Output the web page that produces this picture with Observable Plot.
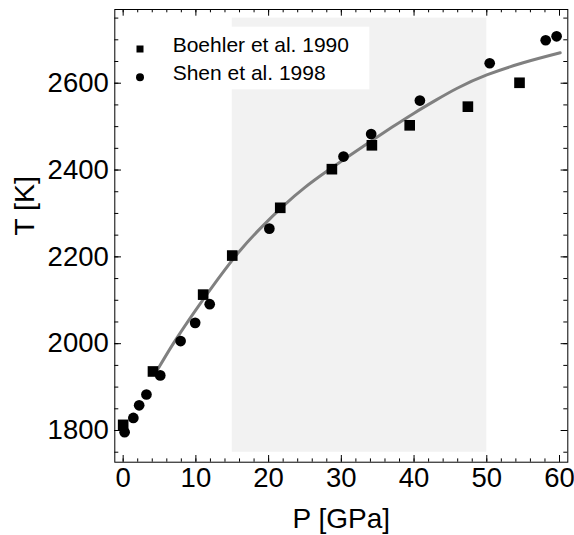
<!DOCTYPE html>
<html>
<head>
<meta charset="utf-8">
<script src="https://cdn.jsdelivr.net/npm/d3@7"></script>
<script src="https://cdn.jsdelivr.net/npm/@observablehq/plot@0.6"></script>
<style>
  html, body { margin: 0; padding: 0; background: #fff; }
  #chart svg { display: block; }
</style>
</head>
<body>
<div id="chart"></div>
<script>
// Melting temperature versus pressure: two experimental data sets and a fitted melting curve.
const boehlerP = [0, 4.1, 11.0, 15.0, 21.6, 28.7, 34.2, 39.4, 47.4, 54.5];
const boehlerT = [1813, 1936, 2113, 2203, 2313, 2402, 2457, 2503, 2546, 2601];

const shenP = [0.2, 1.4, 2.2, 3.2, 5.1, 7.9, 9.9, 11.9, 20.1, 30.3, 34.1, 40.8, 50.4, 58.1, 59.6];
const shenT = [1796, 1829, 1858, 1883, 1927, 2006, 2048, 2091, 2265, 2431, 2483, 2560, 2646, 2699, 2708];

// Fitted melting curve, sampled along its length
const fitP = [4.8, 7, 10, 13, 16, 19, 22, 25, 28, 31, 34, 37, 40, 43, 46, 50, 55, 60.1];
const fitT = [1942, 2003, 2078, 2148, 2213, 2268, 2317, 2360, 2397, 2432, 2466, 2499, 2531, 2561, 2589, 2619, 2647, 2670];

// Shaded pressure window
const bandP = [15, 50];
const bandT = [1750, 2750];

const seriesNames = ["Boehler et al. 1990", "Shen et al. 1998"];

const xMajorTicks = [0, 10, 20, 30, 40, 50, 60];
const xMinorTicks = d3.range(0, 61, 2);
const yMajorTicks = [1800, 2000, 2200, 2400, 2600];
const yMinorTicks = d3.range(1750, 2751, 50);

const xLabel = "P [GPa]";
const yLabel = "T [K]";

const boehler = boehlerP.map((p, i) => ({p, t: boehlerT[i]}));
const shen = shenP.map((p, i) => ({p, t: shenT[i]}));
const fit = fitP.map((p, i) => ({p, t: fitT[i]}));
const band = [{p1: bandP[0], p2: bandP[1], t1: bandT[0], t2: bandT[1]}];

const FONT = "'Liberation Sans', Arial, Helvetica, sans-serif";

// Frame geometry
const W = 574, H = 535;
const M = {left: 114.3, right: 6.7, top: 9, bottom: 73.3};
const frameW = W - M.left - M.right;
const frameH = H - M.top - M.bottom;

// Legend box in the upper-left corner of the frame
function legend(index, scales, values, dims) {
  const g = d3.create("svg:g");
  const x0 = dims.marginLeft, y0 = dims.marginTop;
  g.append("rect")
    .attr("x", x0 + 1).attr("y", y0 + 17.7)
    .attr("width", 254).attr("height", 62.6)
    .attr("fill", "white");
  g.append("rect")
    .attr("x", x0 + 25.7 - 3.5).attr("y", y0 + 40 - 3.5)
    .attr("width", 7).attr("height", 7).attr("fill", "black");
  g.append("circle")
    .attr("cx", x0 + 25.7).attr("cy", y0 + 68.3).attr("r", 4).attr("fill", "black");
  g.selectAll("text.entry").data(seriesNames).join("text")
    .attr("class", "entry")
    .attr("x", x0 + 58.4)
    .attr("y", (d, i) => y0 + 43.3 + i * 27.7)
    .attr("text-anchor", "start")
    .attr("font-family", FONT)
    .attr("font-size", 21)
    .attr("fill", "black")
    .text(d => d);
  return g.node();
}

// Inward tick marks drawn along each side of the frame
const inwardTicks = [
  Plot.tickX(xMajorTicks, {x: d => d, insetTop: frameH - 6.7, stroke: "black"}),
  Plot.tickX(xMinorTicks, {x: d => d, insetTop: frameH - 3.3, stroke: "black"}),
  Plot.tickX(xMajorTicks, {x: d => d, insetBottom: frameH - 6.7, stroke: "black"}),
  Plot.tickX(xMinorTicks, {x: d => d, insetBottom: frameH - 3.3, stroke: "black"}),
  Plot.tickY(yMajorTicks, {y: d => d, insetRight: frameW - 6.7, stroke: "black"}),
  Plot.tickY(yMinorTicks, {y: d => d, insetRight: frameW - 4, stroke: "black"}),
  Plot.tickY(yMajorTicks, {y: d => d, insetLeft: frameW - 6.7, stroke: "black"}),
  Plot.tickY(yMinorTicks, {y: d => d, insetLeft: frameW - 4, stroke: "black"})
];

const chart = Plot.plot({
  width: W,
  height: H,
  marginLeft: M.left,
  marginRight: M.right,
  marginTop: M.top,
  marginBottom: M.bottom,
  style: {fontFamily: FONT, fontSize: "27.5px", color: "black", background: "white", overflow: "visible"},
  x: {domain: [-1.15, 61.14]},
  y: {domain: [1727, 2769.8]},
  marks: [
    Plot.rect(band, {x1: "p1", x2: "p2", y1: "t1", y2: "t2", fill: "#f2f2f2"}),
    legend,
    Plot.line(fit, {x: "p", y: "t", stroke: "#808080", strokeWidth: 3, curve: "natural"}),
    Plot.dot(boehler, {x: "p", y: "t", symbol: "square", r: 6, fill: "black", stroke: "none"}),
    Plot.dot(shen, {x: "p", y: "t", symbol: "circle", r: 5.35, fill: "black", stroke: "none"}),

    // tick labels
    Plot.axisX({anchor: "bottom", ticks: xMajorTicks, tickSize: 0, tickPadding: 5, fontSize: 27.5, tickFormat: d => String(d), label: null}),
    Plot.axisY({anchor: "left", ticks: yMajorTicks, tickSize: 0, tickPadding: 6, fontSize: 27.5, tickFormat: d => String(d), label: null}),

    ...inwardTicks,

    // axis titles
    Plot.text([xLabel], {frameAnchor: "bottom", dy: 57.3, text: d => d, fontSize: 28, lineAnchor: "middle"}),
    Plot.text([yLabel], {frameAnchor: "left", dx: -90.3, rotate: -90, text: d => d, fontSize: 28.5, lineAnchor: "middle"}),

    Plot.frame({stroke: "black", strokeWidth: 1})
  ]
});

document.getElementById("chart").append(chart);
</script>
</body>
</html>
